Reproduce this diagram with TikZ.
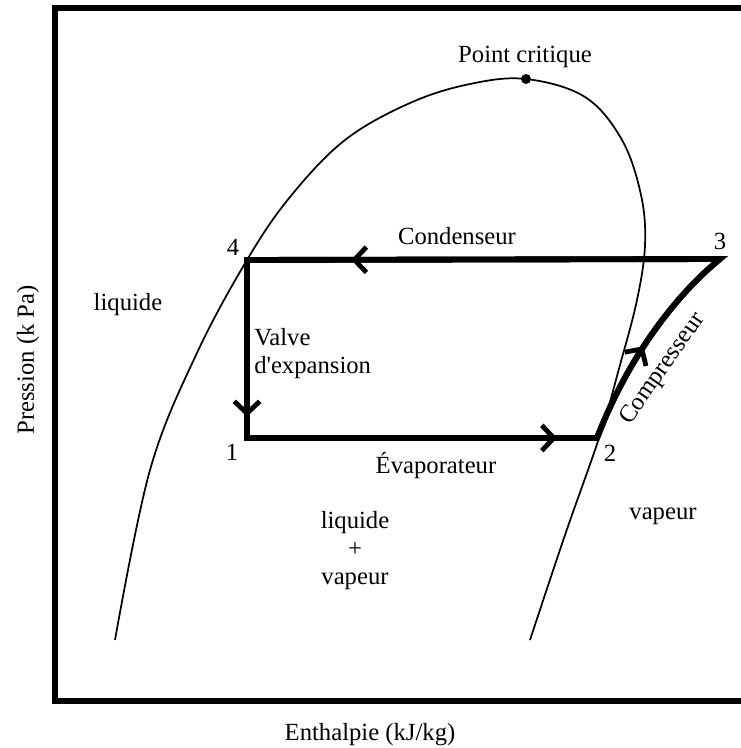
\documentclass[tikz,border=0pt]{standalone}
\usepackage{fontspec}
\setmainfont{Liberation Serif}
\usetikzlibrary{arrows.meta,decorations.markings}
\begin{document}
\begin{tikzpicture}[x=0.75pt,y=-0.75pt,
  lbl/.style={font=\fontsize{18.5}{21}\selectfont, inner sep=0pt},
  cyc/.style={line width=4.4pt, line join=miter},
  dome/.style={line width=1.3pt},
  frame/.style={line width=4pt},
  midarrow/.style={decoration={markings, mark=at position #1 with {\arrow[line width=3.6pt]{Straight Barb[length=9pt,width=19pt]}}}, postaction={decorate}},
]
\useasboundingbox (0,0) rectangle (740,748);
% frame
\draw[frame] (745,8) -- (55,8) -- (55,701) -- (745,701);
% saturation dome
\draw[dome] plot[smooth, tension=0.6] coordinates {(115,640) (150,470) (196,355) (247,260) (290,197) (345,140) (410,103) (470,84) (526,79) (585,97) (622,140) (641,195) (645,245) (637,300) (620,365) (600,435) (565,535) (530,640)};
% critical point
\coordinate (cp) at (526,79);
\fill (cp) circle[radius=5];
\node[lbl] (pcl) at (525,57) {Point critique};
% cycle points
\coordinate (p1) at (247,438);
\coordinate (p2) at (597,438);
\coordinate (p3) at (720,259);
\coordinate (p4) at (247,260);
\draw[cyc] (p2) .. controls (625,365) and (670,300) .. (p3) -- (p4) -- (p1) -- cycle;
% arrows
\draw[cyc, midarrow=0.78] (p3) -- (p4);
\draw[cyc, midarrow=0.88] (p4) -- (p1);
\draw[cyc, midarrow=0.886] (p1) -- (p2);
\draw[cyc, midarrow=0.47] (p2) .. controls (625,365) and (670,300) .. (p3);
% labels
\node[lbl] (n4) at (233,247) {4};
\node[lbl] (n3) at (720,241) {3};
\node[lbl] (n1) at (232,452) {1};
\node[lbl] (n2) at (610,453) {2};
\node[lbl] (cond) at (457,236) {Condenseur};
\node[lbl] (evap) at (436,466) {Évaporateur};
\node[lbl, align=left, anchor=west] (valve) at (254,354) {Valve\\d\textquotesingle expansion};
\node[lbl, rotate=55] (comp) at (663,369) {Compresseur};
\node[lbl] (liq) at (128,305) {liquide};
\node[lbl, align=center] (lv) at (355,551) {liquide\\+\\vapeur};
\node[lbl] (vap) at (663,516) {vapeur};
\node[lbl, rotate=90] (yl) at (28,360) {Pression (k Pa)};
\node[lbl] (xl) at (370,735) {Enthalpie (kJ/kg)};
\end{tikzpicture}
\end{document}
